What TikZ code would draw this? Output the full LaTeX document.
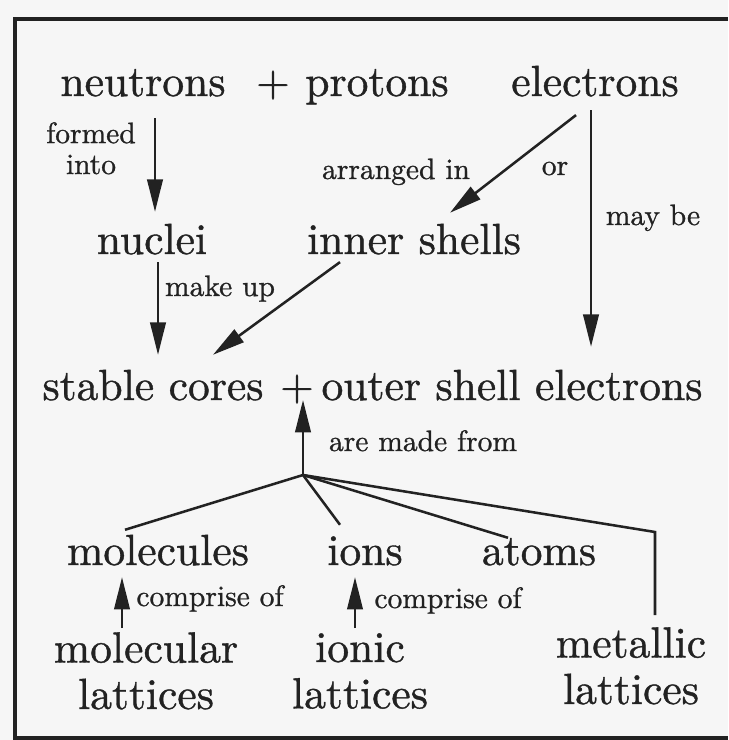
\documentclass[tikz,border=0pt]{standalone}
\usepackage{fontspec}
\setmainfont{lmroman10-regular.otf}
\newfontfamily\inkfont{lmroman10-regular.otf}[FakeBold=0.9]
\usetikzlibrary{arrows.meta,positioning}
\definecolor{paper}{HTML}{F6F6F6}
\definecolor{ink}{HTML}{222222}

\begin{document}
\begin{tikzpicture}[x=0.025cm,y=-0.025cm,every node/.style={text=ink},
  term/.style={font=\inkfont\fontsize{31}{33}\selectfont,inner sep=0pt,anchor=base,text height=22pt,text depth=7pt},
  lattice/.style={font=\inkfont\fontsize{31}{33}\selectfont,inner sep=0pt,align=center,anchor=north},
  note/.style={font=\inkfont\fontsize{21}{22}\selectfont,inner sep=0pt,anchor=base},
  link/.style={draw=ink,line width=1.8pt,-{Triangle[length=23pt,width=11pt]}},
  spoke/.style={draw=ink,line width=1.8pt,line join=miter}]
\useasboundingbox (0,0) rectangle (728,740);
\fill[paper] (0,0) rectangle (728,740);
\draw[ink,line width=2.3pt,line cap=butt] (728,19) -- (15,19) -- (15,738) -- (728,738);

\node[term] (neutrons) at (143,96) {neutrons};
\node[term] (plus1) at (273,96) {+};
\node[term] (protons) at (377,96) {protons};
\node[term] (electrons) at (595,96) {electrons};
\node[note,align=center,anchor=north] (formed) at (91,122) {formed\\into};
\node[note] (arranged) at (396,179) {arranged in};
\node[note] (or) at (555,175) {or};
\node[note] (maybe) at (653,225) {may be};
\node[term] (nuclei) at (152,254) {nuclei};
\node[term] (inner) at (414,254) {inner shells};
\node[note] (makeup) at (220,296) {make up};
\node[term] (cores) at (153,400) {stable cores};
\node[term] (plus2) at (297,400) {+};
\node[term] (outer) at (512,400) {outer shell electrons};
\node[note] (madefrom) at (423,451) {are made from};
\coordinate (hub) at (303,475);
\node[term] (molecules) at (158,565) {molecules};
\node[term] (ions) at (365,565) {ions};
\node[term] (atoms) at (539,565) {atoms};
\coordinate (corner) at (655,532);
\node[note] (comprise1) at (210,606) {comprise of};
\node[note] (comprise2) at (448,608) {comprise of};
\node[lattice] (mollat) at (146,632) {molecular\\lattices};
\node[lattice] (ionlat) at (360,633) {ionic\\lattices};
\node[lattice] (metlat) at (631,627) {metallic\\lattices};

\draw[link] ([shift={(12,12)}]neutrons.south) -- ([shift={(3,-11)}]nuclei.north);
\draw[link] ([shift={(-19,9)}]electrons.south) -- ([shift={(36,-10)}]inner.north);
\draw[link] ([shift={(-4,4)}]electrons.south) -- ([shift={(79,-22)}]outer.north);
\draw[link] ([shift={(6,-2)}]nuclei.south) -- ([shift={(5,-14)}]cores.north);
\draw[link] ([shift={(-74,-2)}]inner.south) -- ([shift={(60,-14)}]cores.north);
\draw[link] (hub) -- (hub |- plus2.base);
\draw[spoke] (hub) -- ([shift={(-33,-4)}]molecules.north);
\draw[spoke] (hub) -- ([shift={(-25,-9)}]ions.north);
\draw[spoke] (hub) -- ([shift={(-31,4)}]atoms.north);
\draw[spoke] (hub) -- (corner) -- ([shift={(24,-12)}]metlat.north);
\draw[link] ([shift={(-24,-4)}]mollat.north) -- ([shift={(-36,2)}]molecules.south);
\draw[link] ([shift={(-5,-5)}]ionlat.north) -- ([shift={(-10,2)}]ions.south);
\end{tikzpicture}
\end{document}
